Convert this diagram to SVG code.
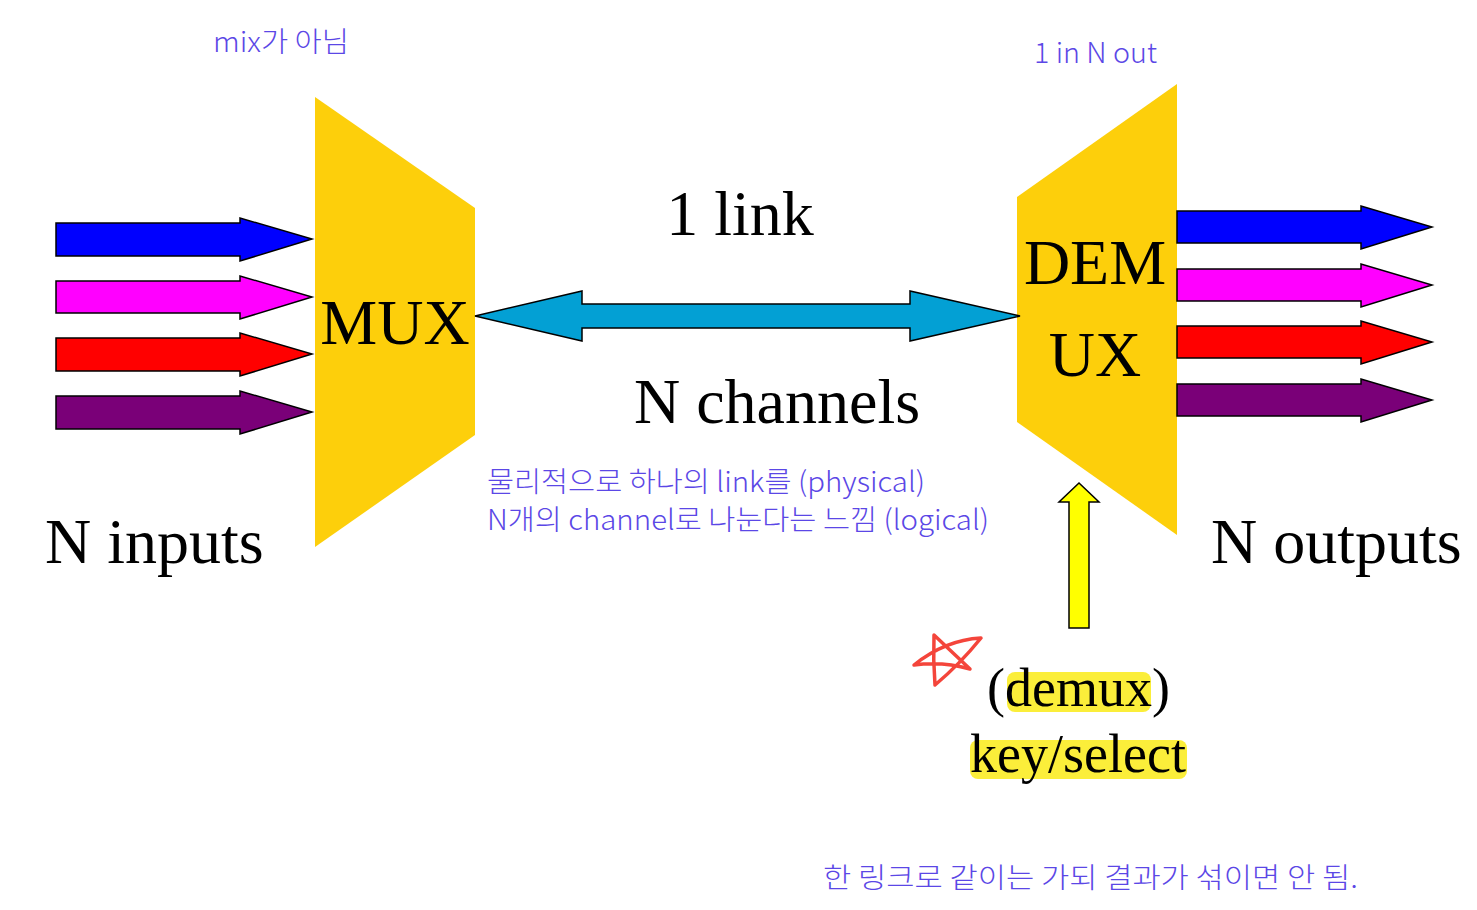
<svg xmlns="http://www.w3.org/2000/svg" width="1477" height="910" viewBox="0 0 1477 910">
<style>
.big{font-family:"Liberation Serif","Times New Roman",serif;font-size:64px;fill:#000}
.mid{font-family:"Liberation Serif","Times New Roman",serif;font-size:54px;fill:#000}
.note{font-family:"Noto Sans CJK KR","Noto Sans",sans-serif;font-size:28px;font-weight:300;fill:#5b47e6}
.box{fill:#fdcf0b}
.arr{stroke:#000;stroke-width:1.5;stroke-linejoin:miter}
.hl{fill:#fbee3a}
</style>
<rect width="1477" height="910" fill="#fff"/>
<g id="mux">
<polygon class="box" points="315,97 475,208 475,435 315,547"/>
<text class="big" x="395" y="344" text-anchor="middle">MUX</text>
</g>
<g id="demux">
<polygon class="box" points="1017,197 1177,84 1177,535 1017,422"/>
<text class="big" x="1095" y="284" text-anchor="middle">DEM</text>
<text class="big" x="1095" y="376" text-anchor="middle">UX</text>
</g>
<g id="connectors">
<polygon class="arr" fill="#0000ff" points="56,223 240,223 240,218 312,239 240,261 240,256 56,256"/>
<polygon class="arr" fill="#ff00ff" points="56,281 240,281 240,276 312,297 240,319 240,313 56,313"/>
<polygon class="arr" fill="#ff0000" points="56,338 240,338 240,333 312,354 240,376 240,371 56,371"/>
<polygon class="arr" fill="#7a0078" points="56,396 240,396 240,391 312,412 240,434 240,429 56,429"/>
<polygon class="arr" fill="#0000ff" points="1177,211 1361,211 1361,206 1432,227 1361,249 1361,243 1177,243"/>
<polygon class="arr" fill="#ff00ff" points="1177,269 1361,269 1361,264 1432,285 1361,307 1361,301 1177,301"/>
<polygon class="arr" fill="#ff0000" points="1177,326 1361,326 1361,321 1432,342 1361,364 1361,358 1177,358"/>
<polygon class="arr" fill="#7a0078" points="1177,384 1361,384 1361,379 1432,400 1361,422 1361,416 1177,416"/>
<polygon class="arr" fill="#03a0d4" points="475,316 582,291 582,304 910,304 910,291 1020,316 910,341 910,328 582,328 582,341"/>
<polygon class="arr" fill="#ffff00" points="1069,628 1069,502 1059,502 1079,483 1099,502 1089,502 1089,628"/>
</g>
<g id="labels">
<text class="big" x="740" y="235" text-anchor="middle">1 link</text>
<text class="big" x="777" y="423" text-anchor="middle">N channels</text>
<text class="big" x="45" y="563">N inputs</text>
<text class="big" x="1211" y="563">N outputs</text>
</g>
<g id="key">
<rect class="hl" x="1007" y="672" width="144" height="40" rx="8"/>
<rect class="hl" x="970" y="740" width="217" height="39" rx="8"/>
<text class="mid" x="987" y="706">(demux)</text>
<text class="mid" x="970" y="772">key/select</text>
</g>
<g id="star">
<path d="M935,685 Q933,660 934,635 Q952,652 970,669 Q942,661 914,665 Q945,640 981,638 Q960,664 935,685" fill="none" stroke="#f4453b" stroke-width="3.5" stroke-linejoin="round" stroke-linecap="round"/>
</g>
<g id="notes">
<text class="note" x="213" y="52" textLength="136" lengthAdjust="spacingAndGlyphs">mix가 아님</text>
<text class="note" x="1034" y="63" textLength="123" lengthAdjust="spacingAndGlyphs">1 in N out</text>
<text class="note" x="487" y="492" textLength="438" lengthAdjust="spacingAndGlyphs">물리적으로 하나의 link를 (physical)</text>
<text class="note" x="487" y="530" textLength="502" lengthAdjust="spacingAndGlyphs">N개의 channel로 나눈다는 느낌 (logical)</text>
<text class="note" x="823" y="888" textLength="535" lengthAdjust="spacingAndGlyphs">한 링크로 같이는 가되 결과가 섞이면 안 됨.</text>
</g>
</svg>
